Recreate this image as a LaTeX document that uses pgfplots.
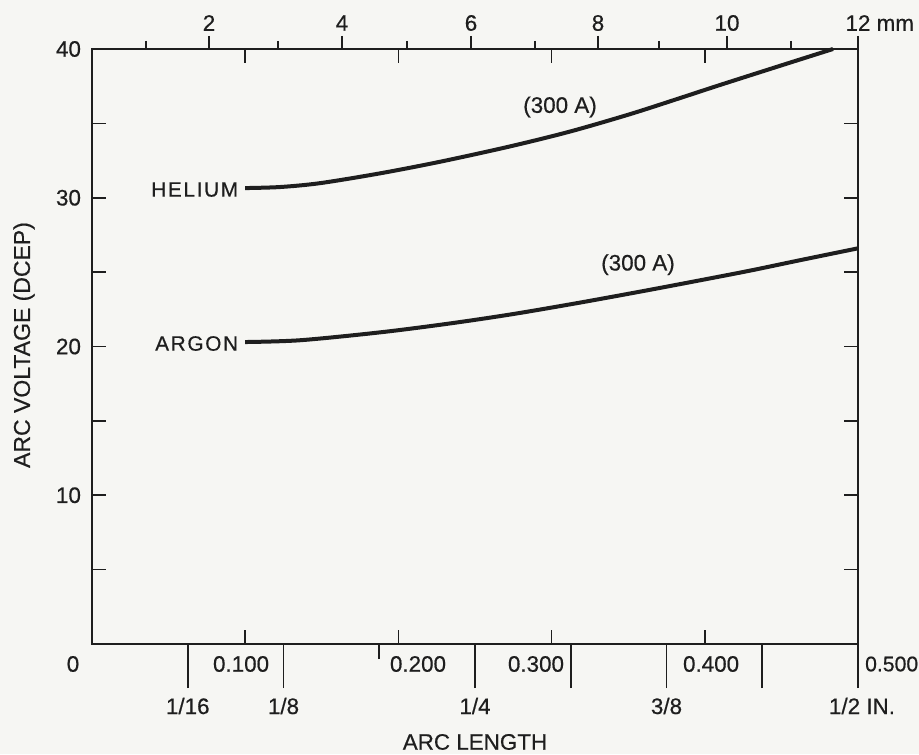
\documentclass[border=0pt]{standalone}
\usepackage{fontspec}
\setmainfont{Liberation Sans}[FakeBold=0.5]
\newfontfamily\spaced{Liberation Sans}[LetterSpace=8, FakeBold=0.5]
\usepackage{pgfplots}
\pgfplotsset{compat=1.18}
\definecolor{ink}{RGB}{30,30,30}
\definecolor{paper}{RGB}{246,246,243}

\pgfplotstableread{
x y
0.0999 30.65
0.1227 30.72
0.1488 30.98
0.1880 31.64
0.2272 32.42
0.2728 33.45
0.3120 34.45
0.3512 35.62
0.3838 36.70
0.4099 37.58
0.4537 39.02
0.4837 40.00
}\helium

\pgfplotstableread{
x y
0.0999 20.30
0.1358 20.42
0.1880 20.95
0.2337 21.55
0.2748 22.18
0.3185 22.95
0.3610 23.75
0.3969 24.45
0.4295 25.10
0.4621 25.80
0.5000 26.60
}\argon

\begin{document}
\begin{tikzpicture}[font=\fontsize{11.2}{13}\selectfont, color=ink]
\useasboundingbox (-46pt,-55pt) rectangle (413.5pt,322pt);
\clip (-46pt,-55pt) rectangle (413.5pt,322pt);
\fill[paper] (-46pt,-55pt) rectangle (413.5pt,322pt);

% main axis
\begin{axis}[
  at={(0,0)}, anchor=south west,
  scale only axis, width=383pt, height=297.5pt,
  xmin=0, xmax=0.5, ymin=0, ymax=40,
  clip=false,
  axis line style={ink, line width=1.3pt},
  tick style={ink, line width=0.8pt},
  tick align=inside,
  xtick={0.1,0.2,0.3,0.4}, xticklabels={},
  major tick length=7pt, minor tick length=7pt,
  ytick={10,20,30,40}, yticklabels={10,20,30,40},
  minor ytick={5,15,25,35},
  yticklabel style={font=\fontsize{11.2}{13}\selectfont, text=ink, xshift=-2pt},
]
\addplot[ink, line width=2pt, smooth, tension=0.5] table[x=x,y=y] {\helium};
\addplot[ink, line width=2pt, smooth, tension=0.5] table[x=x,y=y] {\argon};

% curve labels
\node[anchor=east, font=\spaced\fontsize{10.4}{12}\selectfont] at (axis cs:0.1,30.55) {HELIUM\hspace{3pt}};
\node[anchor=east, font=\spaced\fontsize{10.4}{12}\selectfont] at (axis cs:0.1,20.2) {ARGON\hspace{3pt}};
\node at (axis cs:0.3055,36.1) {(300 A)};
\node at (axis cs:0.3564,25.5) {(300 A)};

% bottom decimal labels
\node at (axis cs:-0.0124,0) [yshift=-10pt] {0};
\node at (axis cs:0.0973,0) [yshift=-10pt] {0.100};
\node at (axis cs:0.2128,0) [yshift=-10pt] {0.200};
\node at (axis cs:0.2898,0) [yshift=-10pt] {0.300};
\node at (axis cs:0.4041,0) [yshift=-10pt] {0.400};
\node[anchor=west, inner sep=0pt, font=\fontsize{10.6}{12}\selectfont] at (axis cs:0.5044,0) [yshift=-10pt] {0.500};

% fraction labels
\node at (axis cs:0.0625,0) [yshift=-31pt] {1/16};
\node at (axis cs:0.125,0) [yshift=-31pt] {1/8};
\node at (axis cs:0.25,0) [yshift=-31pt] {1/4};
\node at (axis cs:0.375,0) [yshift=-31pt] {3/8};
\node at (axis cs:0.5,0) [yshift=-31pt, xshift=2pt] {1/2 IN.};

% axis titles
\node at (axis cs:0.25,0) [yshift=-49pt] {ARC LENGTH};
\node[rotate=90, font=\fontsize{11.5}{13}\selectfont] at ([xshift=-34pt]axis cs:0,20.1) {ARC VOLTAGE (DCEP)};

% top mm labels
\node at (axis cs:0.0764,40) [yshift=13pt] {2};
\node at (axis cs:0.1632,40) [yshift=13pt] {4};
\node at (axis cs:0.2474,40) [yshift=13pt] {6};
\node at (axis cs:0.3303,40) [yshift=13pt] {8};
\node at (axis cs:0.4145,40) [yshift=13pt] {10};
\node at (axis cs:0.5,40) [yshift=13pt] {12\rlap{ mm}};
\end{axis}

% top millimetre scale
\begin{axis}[
  at={(0,0)}, anchor=south west,
  scale only axis, width=383pt, height=297.5pt,
  xmin=0, xmax=0.5, ymin=0, ymax=40,
  axis x line*=top, axis y line=none,
  axis line style={ink, line width=1.3pt},
  tick style={ink, line width=0.8pt},
  tick align=outside,
  xtick={0.0764,0.1632,0.2474,0.3303,0.4145,0.5}, xticklabels={},
  minor xtick={0.0352,0.1214,0.2056,0.2892,0.3701,0.4563},
  major tick length=6.5pt, minor tick length=4pt,
]
\end{axis}

% bottom inch-fraction scale
\begin{axis}[
  at={(0,0)}, anchor=south west,
  scale only axis, width=383pt, height=297.5pt,
  xmin=0, xmax=0.5, ymin=0, ymax=40,
  axis x line*=bottom, axis y line=none,
  axis line style={ink, line width=1.3pt},
  tick style={ink, line width=0.8pt},
  tick align=outside,
  xtick={0.0625,0.125,0.25,0.3125,0.375,0.4375,0.5}, xticklabels={},
  minor xtick={0.1875},
  major tick length=22pt, minor tick length=7.5pt,
]
\end{axis}
\end{tikzpicture}
\end{document}
